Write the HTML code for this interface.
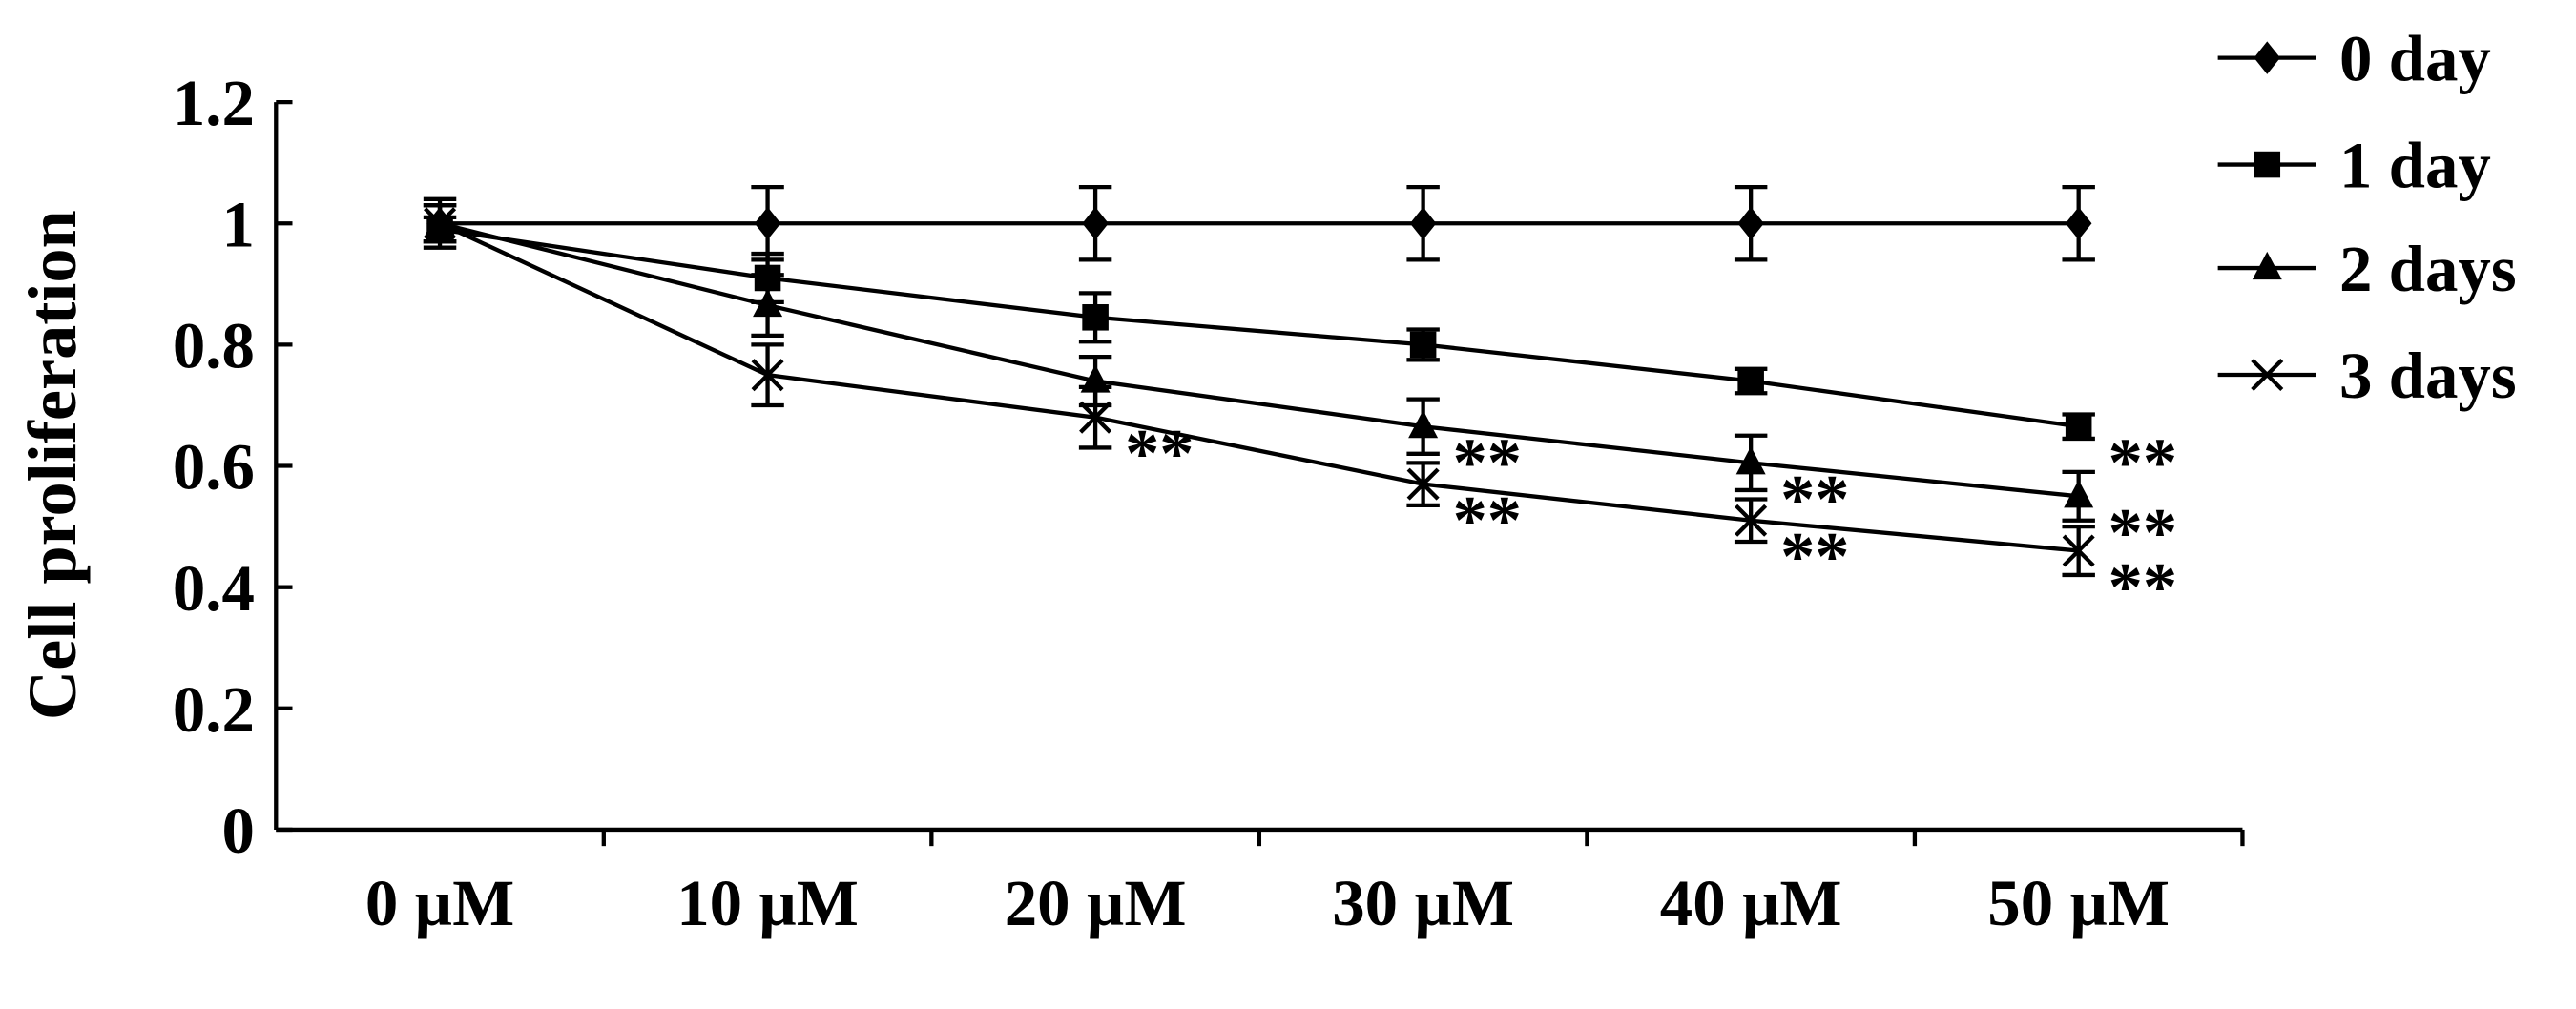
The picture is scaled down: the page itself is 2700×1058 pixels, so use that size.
<!DOCTYPE html>
<html><head><meta charset="utf-8"><style>
html,body{margin:0;padding:0;background:#fff;}
svg{display:block;}
text{font-family:"Liberation Serif",serif;font-weight:bold;fill:#000;}
</style></head><body>
<svg id="chart" width="2700" height="1058" viewBox="0 0 1568 614" xmlns="http://www.w3.org/2000/svg">
<g id="axes"></g>
<g id="series"></g>
<g id="legend"></g>
</svg>
<script>
const categories = ["0 \u00b5M","10 \u00b5M","20 \u00b5M","30 \u00b5M","40 \u00b5M","50 \u00b5M"];
const yTicks = [0,0.2,0.4,0.6,0.8,1,1.2];
const yTickLabels = ["0","0.2","0.4","0.6","0.8","1","1.2"];
const seriesNames = ["0 day","1 day","2 days","3 days"];
const day0 = [1,1,1,1,1,1];
const day1 = [0.99,0.91,0.845,0.80,0.74,0.665];
const day2 = [1,0.865,0.74,0.665,0.605,0.55];
const day3 = [1,0.75,0.68,0.57,0.51,0.46];
const err0 = [0.04,0.06,0.06,0.06,0.06,0.06];
const err1 = [0.02,0.04,0.04,0.025,0.02,0.02];
const err2 = [0.03,0.05,0.04,0.045,0.045,0.04];
const err3 = [0.03,0.05,0.05,0.035,0.035,0.04];
// significance markers: [seriesIndex, categoryIndex]
const sigMarks = [[3,2],[2,3],[3,3],[2,4],[3,4],[1,5],[2,5],[3,5]];

const NS="http://www.w3.org/2000/svg";
const X0=168, X1=1365, Y0=505, Y1=62;
const band=(X1-X0)/categories.length;
function xs(i){return X0+band*(i+0.5);}
function ys(v){return Y0-(v/1.2)*(Y0-Y1);}
function mk(tag,attrs,parent){const e=document.createElementNS(NS,tag);for(const k in attrs)e.setAttribute(k,attrs[k]);parent.appendChild(e);return e;}
const axes=document.getElementById('axes'), ser=document.getElementById('series'), leg=document.getElementById('legend');

let e=mk('line',{x1:X0,y1:Y1,x2:X0,y2:Y0,stroke:'#000','stroke-width':2.5},axes);


e=mk('line',{x1:X0,y1:Y0,x2:X1,y2:Y0,stroke:'#000','stroke-width':2.5},axes);


yTicks.forEach((t,i)=>{
  let l=mk('line',{x1:X0,y1:ys(t),x2:X0+10,y2:ys(t),stroke:'#000','stroke-width':2.5},axes);
  
  
  let tx=mk('text',{x:155,y:ys(t)+14,'text-anchor':'end','font-size':40},axes);
  tx.textContent=yTickLabels[i];
  
  
});
for(let i=1;i<=categories.length;i++){
  let l=mk('line',{x1:X0+band*i,y1:Y0,x2:X0+band*i,y2:Y0+10,stroke:'#000','stroke-width':2.5},axes);
  
  
}
categories.forEach((c,i)=>{
  let tx=mk('text',{x:xs(i),y:563,'text-anchor':'middle','font-size':40},axes);
  tx.textContent=c;
  
  
});
let yt=mk('text',{x:0,y:0,'text-anchor':'middle','font-size':42,transform:'translate(46,283) rotate(-90)'},axes);
yt.textContent='Cell proliferation';



function marker(type,x,y,parent){
  const g=mk('g',{},parent);
  if(type===0) mk('polygon',{points:`${x},${y-10} ${x+8},${y} ${x},${y+10} ${x-8},${y}`,fill:'#000'},g);
  else if(type===1) mk('rect',{x:x-8,y:y-8,width:16,height:16,fill:'#000'},g);
  else if(type===2) mk('polygon',{points:`${x},${y-10} ${x+9},${y+7} ${x-9},${y+7}`,fill:'#000'},g);
  else { mk('path',{d:`M${x-9},${y-9}L${x+9},${y+9}M${x+9},${y-9}L${x-9},${y+9}`,stroke:'#000','stroke-width':2.5},g); }
  return g;
}
const allData=[day0,day1,day2,day3], allErr=[err0,err1,err2,err3];
allData.forEach((d,s)=>{
  const g=mk('g',{},ser);
  
  
  mk('polyline',{points:d.map((v,i)=>xs(i)+','+ys(v)).join(' '),fill:'none',stroke:'#000','stroke-width':2.5},g);
  d.forEach((v,i)=>{
    const er=allErr[s][i], x=xs(i);
    const eb=mk('path',{d:`M${x},${ys(v+er)}L${x},${ys(v-er)}M${x-10},${ys(v+er)}L${x+10},${ys(v+er)}M${x-10},${ys(v-er)}L${x+10},${ys(v-er)}`,stroke:'#000','stroke-width':2.5,fill:'none'},g);
    
    
    const m=marker(s,x,ys(v),g);
    
    
  });
});
sigMarks.forEach(([s,i])=>{
  const t=mk('text',{x:xs(i)+18,y:ys(allData[s][i])+36,'font-size':42},ser);
  t.textContent='**';
  
  
});
const legY=[35,100,163,228];
seriesNames.forEach((n,s)=>{
  const g=mk('g',{},leg);
  
  
  mk('line',{x1:1350,y1:legY[s],x2:1410,y2:legY[s],stroke:'#000','stroke-width':2.5},g);
  marker(s,1380,legY[s],g);
  const t=mk('text',{x:1424,y:legY[s]+14,'font-size':40},g);
  t.textContent=n;
});
</script>
</body></html>
